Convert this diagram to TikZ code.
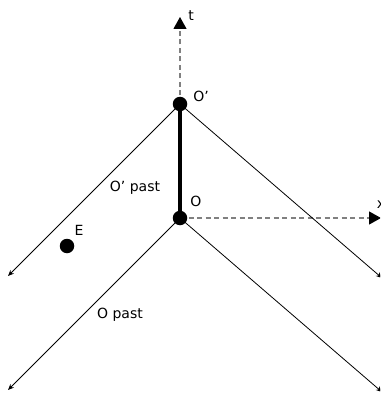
\documentclass[tikz,border=0pt]{standalone}
\usepackage{fontspec}
\setmainfont{DejaVu Sans}
\usetikzlibrary{arrows.meta}
\begin{document}
\begin{tikzpicture}[x=1pt,y=-1pt,
  dot/.style={circle,fill=black,inner sep=0pt,minimum size=14.5pt},
  lbl/.style={font=\fontsize{14}{16}\selectfont,inner sep=0pt},
  cone/.style={line width=0.8pt,-{Stealth[length=6pt,width=5pt]}},
  axis/.style={gray,line width=1.1pt,dash pattern=on 5pt off 3.5pt,-{Triangle[length=12pt,width=13pt,color=black]}}]
\useasboundingbox (0,0) rectangle (380,393);
\clip (0,0) rectangle (380,393);
\coordinate (Pp) at (180,104);
\coordinate (P) at (180,218);
\coordinate (tEnd) at (180,17);
\coordinate (xEnd) at (381,218);
\coordinate (L1) at (8,276);
\coordinate (R1) at (382,278);
\coordinate (L2) at (8,390);
\coordinate (R2) at (382,392);
\draw[axis] (Pp) -- (tEnd);
\draw[axis] (P) -- (xEnd);
\draw[cone] (Pp) -- (L1);
\draw[cone] (Pp) -- (R1);
\draw[cone] (P) -- (L2);
\draw[cone] (P) -- (R2);
\draw[line width=3.5pt] (Pp) -- (P);
\node[dot] (Op) at (Pp) {};
\node[dot] (O) at (P) {};
\node[dot] (E) at (67,246) {};
\node[lbl] (tl) at (191,16) {t};
\node[lbl] (Opl) at (201,96) {O’};
\node[lbl] (Ol) at (196,201) {O};
\node[lbl] (xl) at (381,205) {x};
\node[lbl] (El) at (79,230) {E};
\node[lbl] (Oppast) at (135,188) {O’ past};
\node[lbl] (Opast) at (120,315) {O past};
\end{tikzpicture}
\end{document}
